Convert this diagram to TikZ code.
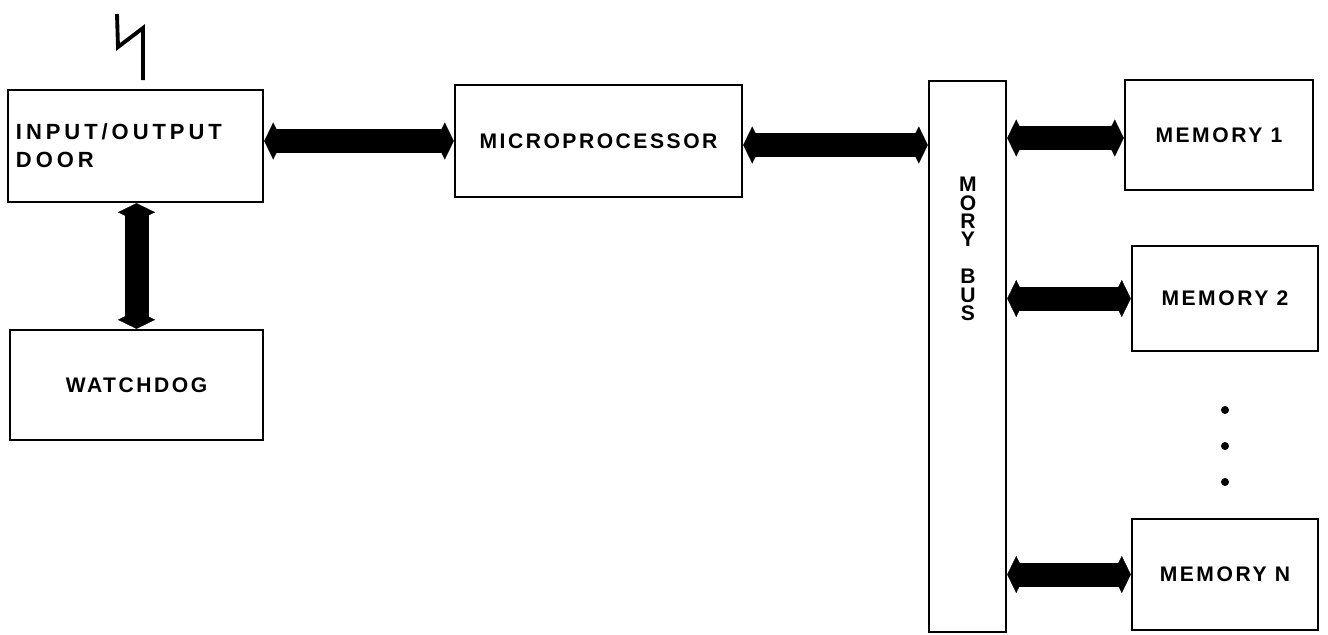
\documentclass[tikz,border=0pt]{standalone}
\usepackage{fontspec}
\usetikzlibrary{arrows.meta}
\newfontfamily\blockfont{Liberation Sans}[LetterSpace=12]

\begin{document}
\begin{tikzpicture}[
  x=0.2mm, y=-0.2mm,
  font=\blockfont\bfseries\fontsize{12}{15.9}\selectfont,
  block/.style={draw, line width=1.4pt, inner sep=0pt, align=center},
  buslink/.style={line width=0.1pt,
    {Kite[length=3.6mm, width=7.4mm, inset=1.8mm]}-{Kite[length=3.6mm, width=7.4mm, inset=1.8mm]},
    preaction={draw, -, line width=4.8mm, shorten <=1.8mm, shorten >=1.8mm}}
]
\useasboundingbox (0,0) rectangle (1328,634);

% left column
\node[block, minimum width=51mm, minimum height=22.4mm, text width=47.8mm, inner xsep=1.6mm, align=left,
  font=\blockfont\bfseries\addfontfeature{LetterSpace=18}\fontsize{12.5}{16}\selectfont]
  (io) at (135.5,146) {INPUT/OUTPUT\\DOOR};
\node[block, minimum width=50.6mm, minimum height=22mm] (wd) at (136.5,385) {WATCHDOG};
\draw[line width=2.2pt] (117,14) -- (118,47) -- (143,28) -- (143,80);

% processor and bus
\node[block, minimum width=57.4mm, minimum height=22.4mm] (micro) at (598.5,141) {MICROPROCESSOR};
\node[block, minimum width=15.4mm, minimum height=110.2mm] (bus) at (967.5,356.5) {};
\node[align=center, font=\blockfont\bfseries\fontsize{12}{10.5}\selectfont]
  (buslabel) at (968,249) {M\\O\\R\\Y\\[10.5pt]B\\U\\S};

% memories
\node[block, minimum width=37.6mm, minimum height=22mm] (mem1) at (1219,135) {MEMORY 1};
\node[block, minimum width=37.2mm, minimum height=21mm] (mem2) at (1225,298.5) {MEMORY 2};
\node[block, minimum width=37.2mm, minimum height=22.2mm] (memN) at (1225,574.5) {MEMORY N};
\foreach \y in {410,446,482}
  \fill (1225,\y) circle (0.8mm);

% bus links
\draw[buslink] (micro.west -| io.east) -- (micro.west);
\draw[buslink] (io.south -| wd.north) -- (wd.north);
\draw[buslink] ([yshift=-0.8mm]micro.east) -- ([yshift=-0.8mm]micro.east -| bus.west);
\draw[buslink] ([yshift=-0.6mm]mem1.west -| bus.east) -- ([yshift=-0.6mm]mem1.west);
\draw[buslink] (mem2.west -| bus.east) -- (mem2.west);
\draw[buslink] (memN.west -| bus.east) -- (memN.west);

\end{tikzpicture}
\end{document}
